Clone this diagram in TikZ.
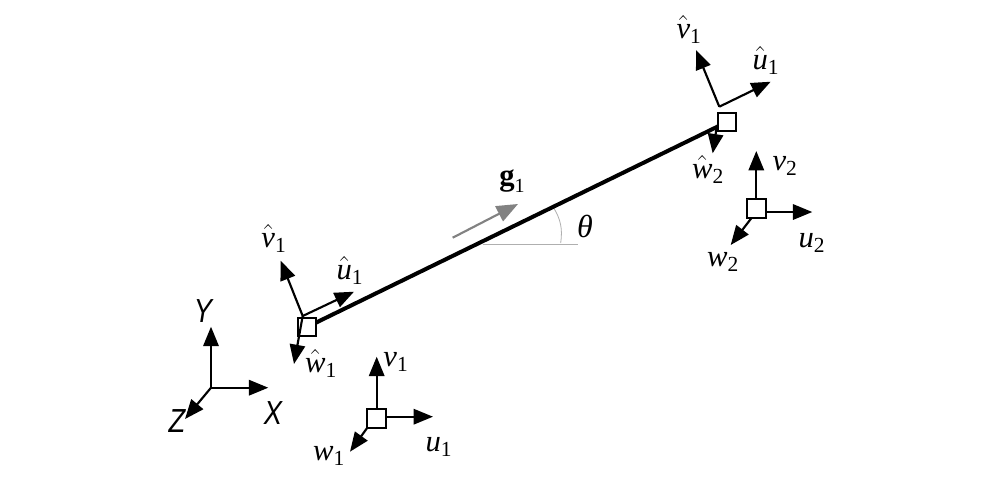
\documentclass[tikz,border=0pt]{standalone}
\usepackage{amsmath}
\usepackage{graphicx}
\usepackage{fontspec}
\setmainfont{Liberation Serif}
\setsansfont{Liberation Sans}
\usetikzlibrary{arrows.meta}
\newcommand{\hatlab}[2]{$\hat{\text{\itshape #1}}_{\text{\rmfamily #2}}$}
\newcommand{\plainlab}[2]{$\text{\itshape #1}_{\text{\rmfamily #2}}$}
\tikzset{
  arrowline/.style={line width=1.6pt,-{Triangle[length=14.5pt,width=11.5pt]}},
  grayarrow/.style={line width=1.6pt,draw={rgb,255:red,130;green,130;blue,130},-{Triangle[length=16pt,width=12.5pt]}},
  beam/.style={line width=3pt},
  thin gray/.style={line width=0.6pt,draw={rgb,255:red,175;green,175;blue,175}},
  sq/.style={draw,line width=1.6pt,fill=white,minimum size=14pt,inner sep=0pt,outer sep=0pt},
  lab/.style={inner sep=0pt,font=\fontsize{23}{26}\selectfont},
  axlab/.style={inner sep=0pt,font=\fontsize{25}{28}\selectfont\sffamily\itshape},
}
\begin{document}
\begin{tikzpicture}[x=0.75pt,y=-0.75pt]
\useasboundingbox[fill=white] (0,0) rectangle (1004,487);
% angle marks
\coordinate (h1) at (482.7,244);
\coordinate (h2) at (578,244);
\coordinate (a1) at (553,206.7);
\coordinate (a2) at (560.7,243);
\draw[thin gray] (h1) -- (h2);
\draw[thin gray] (a1) to[bend left=20] (a2);
% nodes of the beam
\node[sq] (L) at (307,327) {};
\node[sq] (R) at (727,122) {};
\draw[beam] (L) -- (R);
\node[sq] (L) at (307,327) {};
\node[sq] (R) at (727,122) {};
% left local frame
\coordinate (Lo) at (302.7,316);
\coordinate (Lv) at (280.7,260.7);
\coordinate (Lu) at (354,291.7);
\coordinate (Lw) at (294,364);
\draw[arrowline] (Lo) -- (Lv);
\draw[arrowline] (Lo) -- (Lu);
\draw[arrowline] (Lo) -- (Lw);
% right local frame
\coordinate (Ro) at (719.3,106.7);
\coordinate (Rv) at (696,50);
\coordinate (Ru) at (770.7,81.7);
\coordinate (Rs) at (717,125);
\coordinate (Rw) at (712.7,153.3);
\draw[arrowline] (Ro) -- (Rv);
\draw[arrowline] (Ro) -- (Ru);
\draw[arrowline] (Rs) -- (Rw);
% global axes
\coordinate (O) at (211,387.7);
\coordinate (Yt) at (211,326.7);
\coordinate (Xt) at (268.3,387.7);
\coordinate (Zt) at (185,419);
\draw[arrowline] (O) -- (Yt);
\draw[arrowline] (O) -- (Xt);
\draw[arrowline] (O) -- (Zt);
% lower frame 1
\node[sq] (A) at (376.7,418.3) {};
\coordinate (Av) at (376.7,356.7);
\coordinate (Au) at (433,416.7);
\coordinate (Aw) at (350,451.7);
\draw[arrowline] (A.north) -- (Av);
\draw[arrowline] (A.east |- Au) -- (Au);
\draw[arrowline] (A.south west) -- (Aw);
% lower frame 2
\node[sq] (B) at (756.3,208.7) {};
\coordinate (Bv) at (756.3,151);
\coordinate (Bu) at (812.3,212);
\coordinate (Bw) at (730.7,245);
\draw[arrowline] (B.north) -- (Bv);
\draw[arrowline] (B.east |- Bu) -- (Bu);
\draw[arrowline] (B.south west) ++(4.5,0) -- (Bw);
% g1 arrow
\coordinate (g0) at (452.7,237.7);
\coordinate (g1t) at (518,204);
\draw[grayarrow] (g0) -- (g1t);
% labels
\node[lab] (tLv) at (274,238) {\hatlab{v}{1}};
\node[lab] (tLu) at (350,270) {\hatlab{u}{1}};
\node[lab] (tLw) at (321,363) {\hatlab{w}{1}};
\node[lab] (tAv) at (396,362) {\plainlab{v}{1}};
\node[lab] (tAu) at (439,447) {\plainlab{u}{1}};
\node[lab] (tAw) at (329,456) {\plainlab{w}{1}};
\node[lab] (tRv) at (689,29) {\hatlab{v}{1}};
\node[lab] (tRu) at (766,60) {\hatlab{u}{1}};
\node[lab] (tRw) at (708,169) {\hatlab{w}{2}};
\node[lab] (tBv) at (785,166) {\plainlab{v}{2}};
\node[lab] (tBu) at (812,243) {\plainlab{u}{2}};
\node[lab] (tBw) at (723,262) {\plainlab{w}{2}};
\node[lab] (tg) at (512,181) {\textbf{g}\raisebox{-0.25em}{\fontsize{15}{17}\selectfont 1}};
\node[lab,font=\fontsize{24}{27}\selectfont] (tth) at (585,226) {\itshape θ};
\node[axlab] (tY) at (203,311) {\scalebox{0.82}[1]{Y}};
\node[axlab] (tX) at (273,413) {\scalebox{0.82}[1]{X}};
\node[axlab] (tZ) at (177,421) {\scalebox{0.82}[1]{Z}};
\end{tikzpicture}
\end{document}
